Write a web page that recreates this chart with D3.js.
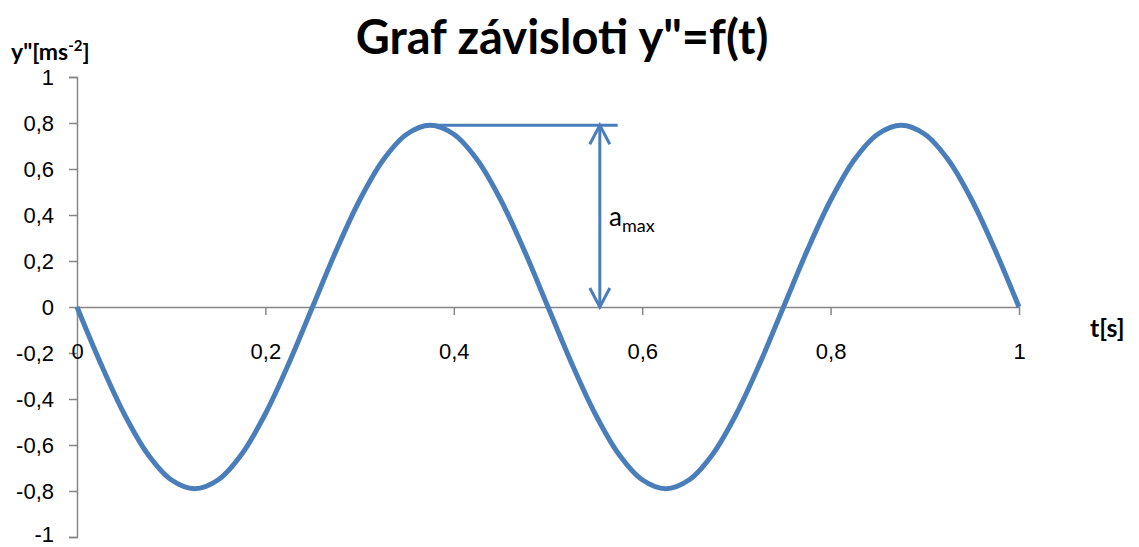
<!DOCTYPE html>
<html>
<head>
<meta charset="utf-8">
<script src="https://cdn.jsdelivr.net/npm/d3@7"></script>
<style>
  body { margin: 0; background: #fff; }
  svg { display: block; font-family: Lato, "Open Sans", sans-serif; }
</style>
</head>
<body>
<svg width="1139" height="547"></svg>
<script>
// data
const times = [0, 0.025, 0.05, 0.075, 0.1, 0.125, 0.15, 0.175, 0.2, 0.225,
  0.25, 0.275, 0.3, 0.325, 0.35, 0.375, 0.4, 0.425, 0.45, 0.475,
  0.5, 0.525, 0.55, 0.575, 0.6, 0.625, 0.65, 0.675, 0.7, 0.725,
  0.75, 0.775, 0.8, 0.825, 0.85, 0.875, 0.9, 0.925, 0.95, 0.975, 1];
const accel = [0, -0.244, -0.464, -0.639, -0.751, -0.79, -0.751, -0.639, -0.464, -0.244,
  0, 0.244, 0.464, 0.639, 0.751, 0.79, 0.751, 0.639, 0.464, 0.244,
  0, -0.244, -0.464, -0.639, -0.751, -0.79, -0.751, -0.639, -0.464, -0.244,
  0, 0.244, 0.464, 0.639, 0.751, 0.79, 0.751, 0.639, 0.464, 0.244, 0];
const xTicks = [0, 0.2, 0.4, 0.6, 0.8, 1];
const yTicks = [1, 0.8, 0.6, 0.4, 0.2, 0, -0.2, -0.4, -0.6, -0.8, -1];
// amplitude marker: horizontal line from peak and the double arrow
const aMax = 0.79;
const markerT = [0.369, 0.574];
const arrowT = 0.555;

const svg = d3.select("svg");
const x = d3.scaleLinear().domain([0, 1]).range([77, 1019]);
const y = d3.scaleLinear().domain([-1, 1]).range([537, 77]);
const fmt = d => String(d).replace(".", ",");
const axisColor = "#868686";
const lineColor = "#4a7ebb";

// title
svg.append("text").attr("x", 562).attr("y", 54).attr("text-anchor", "middle")
  .attr("font-size", 47).attr("font-weight", "bold").text('Graf závisloti y"=f(t)');

// y axis
const yAxis = svg.append("g").attr("transform", `translate(${x(0)},0)`)
  .call(d3.axisLeft(y).tickValues(yTicks).tickSize(8).tickPadding(15).tickFormat(fmt));
yAxis.select(".domain").attr("stroke", axisColor).attr("stroke-width", 1.5);
yAxis.selectAll(".tick line").attr("stroke", axisColor).attr("stroke-width", 1.5);
yAxis.selectAll(".tick text").attr("font-size", 22).attr("fill", "#000");
// keep the lowest label inside the picture
yAxis.selectAll(".tick text").filter(d => d === -1).attr("dy", "0.2em");

// x axis
const xAxis = svg.append("g").attr("transform", `translate(0,${y(0)})`)
  .call(d3.axisBottom(x).tickValues(xTicks).tickSize(8).tickSizeOuter(0).tickPadding(28).tickFormat(fmt));
xAxis.select(".domain").attr("stroke", axisColor).attr("stroke-width", 1.5);
xAxis.selectAll(".tick line").attr("stroke", axisColor).attr("stroke-width", 1.5);
xAxis.selectAll(".tick text").attr("font-size", 22).attr("fill", "#000");

// axis titles
const yl = svg.append("text").attr("x", 11).attr("y", 60).attr("font-size", 23).attr("font-weight", "bold");
yl.append("tspan").text('y"[ms');
yl.append("tspan").attr("font-size", 15).attr("dy", -9).text("-2");
yl.append("tspan").attr("dy", 9).text("]");
svg.append("text").attr("x", 1090).attr("y", 337).attr("font-size", 25).attr("font-weight", "bold").text("t[s]");

// curve
const pts = times.map((t, i) => [t, accel[i]]);
svg.append("path").datum(pts)
  .attr("fill", "none").attr("stroke", lineColor).attr("stroke-width", 5)
  .attr("d", d3.line().x(d => x(d[0])).y(d => y(d[1])).curve(d3.curveCatmullRom));

// amplitude marker
svg.append("line").attr("x1", x(markerT[0])).attr("x2", x(markerT[1]))
  .attr("y1", y(aMax)).attr("y2", y(aMax)).attr("stroke", lineColor).attr("stroke-width", 3);
const ax = x(arrowT), yTop = y(aMax), yBot = y(0);
svg.append("line").attr("x1", ax).attr("x2", ax).attr("y1", yTop).attr("y2", yBot)
  .attr("stroke", lineColor).attr("stroke-width", 3);
svg.append("path").attr("d", `M${ax - 10},${yTop + 19}L${ax},${yTop}L${ax + 10},${yTop + 19}`)
  .attr("fill", "none").attr("stroke", lineColor).attr("stroke-width", 3);
svg.append("path").attr("d", `M${ax - 10},${yBot - 19}L${ax},${yBot}L${ax + 10},${yBot - 19}`)
  .attr("fill", "none").attr("stroke", lineColor).attr("stroke-width", 3);
const al = svg.append("text").attr("x", 609).attr("y", 226).attr("font-size", 26);
al.append("tspan").text("a");
al.append("tspan").attr("font-size", 18).attr("dy", 6).text("max");
</script>
</body>
</html>
